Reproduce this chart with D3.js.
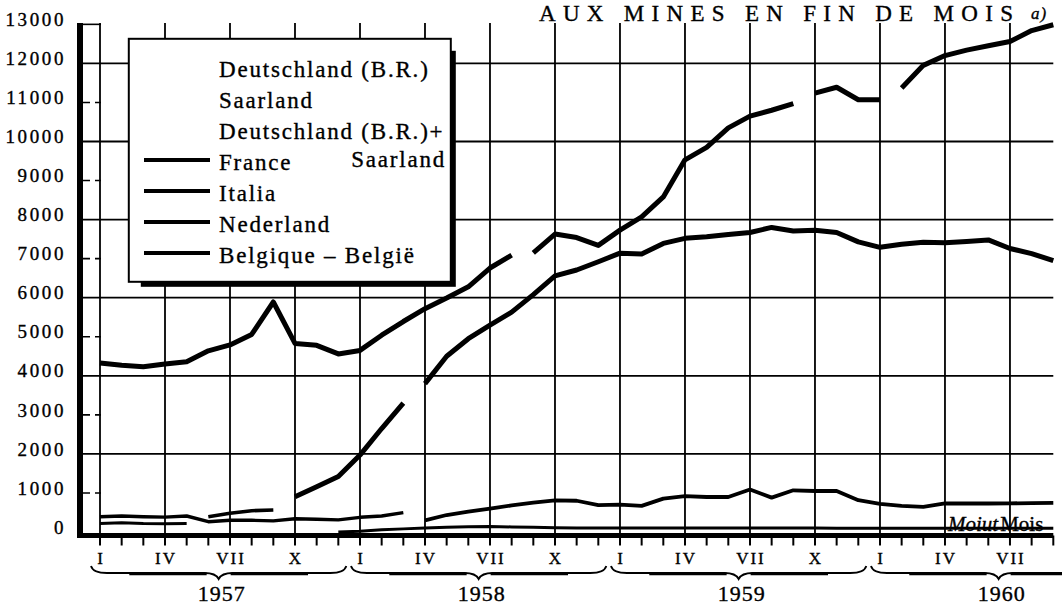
<!DOCTYPE html>
<html><head><meta charset="utf-8">
<script src="https://cdn.jsdelivr.net/npm/d3@7"></script>
<style>
html,body{margin:0;padding:0;background:#fff;}
svg{display:block;}
text{font-family:"Liberation Serif","Times New Roman",serif;fill:#000;stroke:#000;stroke-width:0.35px;}
</style></head><body>
<svg id="chart" width="1062" height="607"></svg>
<script>
// ---------- data ----------
const monthCount = 45;                       // I 1957 .. IX 1960
const years = [1957, 1958, 1959, 1960];
const quarterLabels = ["I", "IV", "VII", "X"];
const yTickValues = d3.range(0, 13001, 1000);
const gridValues = [2000, 4000, 6000, 8000, 10000, 12000];
const titleText = "AUX MINES EN FIN DE MOIS";
const titleNote = "a)";
const unitItalic = "Moiut";
const unitText = "Mois";

// series A (segments, start month index + values)
const seriesA1 = {start: 0,  values: [4330,4270,4230,4300,4360,4640,4790,5060,5890,4830,4780,4560,4650,5040,5390,5720,5990,6280,6760,7090]};
const seriesA2 = {start: 20, values: [7150,7630,7540,7340,7730,8070,8580,9530,9850,10350,10650,10800,10970]};
const seriesA3 = {start: 33, values: [11240,11390,11070,11070]};
const seriesA4 = {start: 37, values: [11370,11950,12200,12340,12450,12560,12840,12990]};
// series B
const seriesB1 = {start: 9,  values: [900,1160,1420,1970,2650,3300]};
const seriesB2 = {start: 15, values: [3800,4500,4950,5300,5630,6080,6560,6710,6920,7140,7120,7390,7520,7560,7620,7670,7800,7710,7730,7670,7430,7290,7370,7420,7410,7440,7480,7260,7130,6950]};
// series C
const seriesC1 = {start: 0,  values: [390,410,392,380,410,264,300,300,285,340,325,310,376,410,495]};
const seriesC2 = {start: 15, values: [300,435,520,600,680,750,810,800,690,700,670,855,920,896,896,1090,880,1068,1050,1050,814,722,671,645,730,730,730,733,740,745]};
// series D, E, F
const seriesD1 = {start: 0,  values: [220,235,215,210,215]};
const seriesE1 = {start: 5,  values: [392,478,546,563]};
const seriesF1 = {start: 11, values: [0,20,55,80,100,120,135,140,130,120,110,100,100,100,100,100,100,100,100,100,100,100,100,95,95,95,95,95,95,95,95,95,95,95]};

const legendNames = ["Deutschland (B.R.)", "Saarland", "Deutschland (B.R.)+", "France", "Italia", "Nederland", "Belgique \u2013 Belgi\u00eb"];
const legendExtra = "Saarland";
const legendWithLine = [false, false, false, true, true, true, true];

// ---------- drawing ----------
const svg = d3.select("#chart");
const x = d3.scaleLinear().domain([0, 44]).range([100, 1053.3]);
const y = d3.scaleLinear().domain([0, 13000]).range([532, 24.35]);
const axisY = 535.5, axisX = 80, topY = 23;

const g = svg.append("g");

// horizontal gridlines
g.selectAll("line.hg").data(gridValues).join("line")
  .attr("x1", axisX).attr("x2", x(44)).attr("y1", d => y(d)).attr("y2", d => y(d))
  .attr("stroke", "#000").attr("stroke-width", 1.8);

// small ticks on left axis
g.selectAll("line.yt").data(yTickValues.filter(v => v > 0 && !gridValues.includes(v))).join("line")
  .attr("x1", axisX + 3).attr("x2", x(0) + 1).attr("y1", d => y(d)).attr("y2", d => y(d))
  .attr("stroke", "#000").attr("stroke-width", 1.6)
  .attr("stroke-dasharray", d => d === 13000 ? null : "7,5");

// vertical gridlines every quarter
g.selectAll("line.vg").data(d3.range(0, 43, 3)).join("line")
  .attr("x1", d => x(d)).attr("x2", d => x(d)).attr("y1", topY).attr("y2", axisY)
  .attr("stroke", "#000").attr("stroke-width", 1.8);

// y labels
g.selectAll("text.yl").data(yTickValues).join("text")
  .attr("x", 66).attr("y", d => y(d) - 5).attr("dy", "0.35em")
  .attr("text-anchor", "end").attr("font-size", 19).attr("letter-spacing", 2.6)
  .text(d => d);

// series lines
const line = d3.line().x(d => x(d.m)).y(d => y(d.v)).curve(d3.curveLinear);
const segs = [
  [seriesA1, 5], [seriesA2, 5], [seriesA3, 5], [seriesA4, 5],
  [seriesB1, 5], [seriesB2, 5],
  [seriesC1, 3.4], [seriesC2, 3.8],
  [seriesD1, 3], [seriesE1, 3.6], [seriesF1, 3]
];
segs.forEach(([s, w]) => {
  const pts = s.values.map((v, i) => ({m: s.start + i, v}));
  g.append("path").attr("d", line(pts)).attr("fill", "none")
    .attr("stroke", "#000").attr("stroke-width", w)
    .attr("stroke-linejoin", "round");
});

// axes
g.append("line").attr("x1", axisX).attr("x2", axisX).attr("y1", topY).attr("y2", axisY + 2.5)
  .attr("stroke", "#000").attr("stroke-width", 6);
g.append("line").attr("x1", axisX - 3).attr("x2", x(44)).attr("y1", axisY).attr("y2", axisY)
  .attr("stroke", "#000").attr("stroke-width", 5);
g.selectAll("line.mt").data(d3.range(0, monthCount)).join("line")
  .attr("x1", d => x(d)).attr("x2", d => x(d)).attr("y1", axisY).attr("y2", axisY + 10)
  .attr("stroke", "#000").attr("stroke-width", 2);

// quarter labels
g.selectAll("text.ql").data(d3.range(0, monthCount, 3)).join("text")
  .attr("x", d => x(d) + 1).attr("y", 564)
  .attr("text-anchor", "middle").attr("font-size", 17).attr("letter-spacing", 2)
  .text(d => quarterLabels[(d / 3) % 4]);

// year braces
years.forEach((yr, k) => {
  const x0 = x(12 * k) - 9, x1 = x(12 * k + 11) + 8, xm = (x0 + x1) / 2;
  const y0 = 566, yh = 573, yt = 579;
  const p = `M${x0},${y0} Q${x0 + 2},${yh} ${x0 + 16},${yh} L${xm - 14},${yh} Q${xm - 3},${yh} ${xm},${yt} Q${xm + 3},${yh} ${xm + 14},${yh} L${x1 - 16},${yh} Q${x1 - 2},${yh} ${x1},${y0}`;
  g.append("path").attr("d", p).attr("fill", "none").attr("stroke", "#000").attr("stroke-width", 1.8);
  g.append("path").attr("d", `M${x0 + (xm - x0) * 0.3},${yh + 0.8} L${xm - 12},${yh + 0.8}`)
    .attr("stroke", "#000").attr("stroke-width", 2.8);
  g.append("path").attr("d", `M${xm + 12},${yh + 0.8} L${x1 - (x1 - xm) * 0.3},${yh + 0.8}`)
    .attr("stroke", "#000").attr("stroke-width", 2.8);
  const yl = g.append("text").attr("x", xm + 3).attr("y", 601).attr("text-anchor", "middle")
    .attr("font-size", 22).attr("letter-spacing", 1).text(yr);
});

// unit label
const ut = g.append("text").attr("x", 948).attr("y", 530.5).attr("font-size", 21);
ut.append("tspan").attr("font-style", "italic").text(unitItalic);
ut.append("tspan").attr("dx", 2).text(unitText);

// title (kept fully inside the picture)
g.append("text").attr("x", 539).attr("y", 21).attr("font-size", 23).attr("letter-spacing", 7.3).text(titleText);
g.append("text").attr("x", 1031).attr("y", 19).attr("font-size", 17).attr("font-style", "italic")
  .attr("letter-spacing", 1).text(titleNote);

// legend
const lb = {x: 128.8, y: 38.8, w: 322, h: 243};
g.append("rect").attr("x", lb.x + 12).attr("y", lb.y + 12).attr("width", lb.w - 7).attr("height", lb.h - 7).attr("fill", "#000");
g.append("rect").attr("x", lb.x).attr("y", lb.y).attr("width", lb.w).attr("height", lb.h)
  .attr("fill", "#fff").attr("stroke", "#000").attr("stroke-width", 2);
const lg = g.append("g");
legendNames.forEach((name, i) => {
  const by = 77 + i * 31;
  lg.append("text").attr("x", 219).attr("y", by).attr("font-size", 23).attr("letter-spacing", 1.8).text(name);
  if (legendWithLine[i]) {
    lg.append("line").attr("x1", 144).attr("x2", 210).attr("y1", by - 10).attr("y2", by - 10)
      .attr("stroke", "#000").attr("stroke-width", 4);
  }
});
lg.append("text").attr("x", 446).attr("y", 77 + 3 * 31 - 3).attr("text-anchor", "end")
  .attr("font-size", 23).attr("letter-spacing", 1.8).text(legendExtra);
</script>
</body></html>
